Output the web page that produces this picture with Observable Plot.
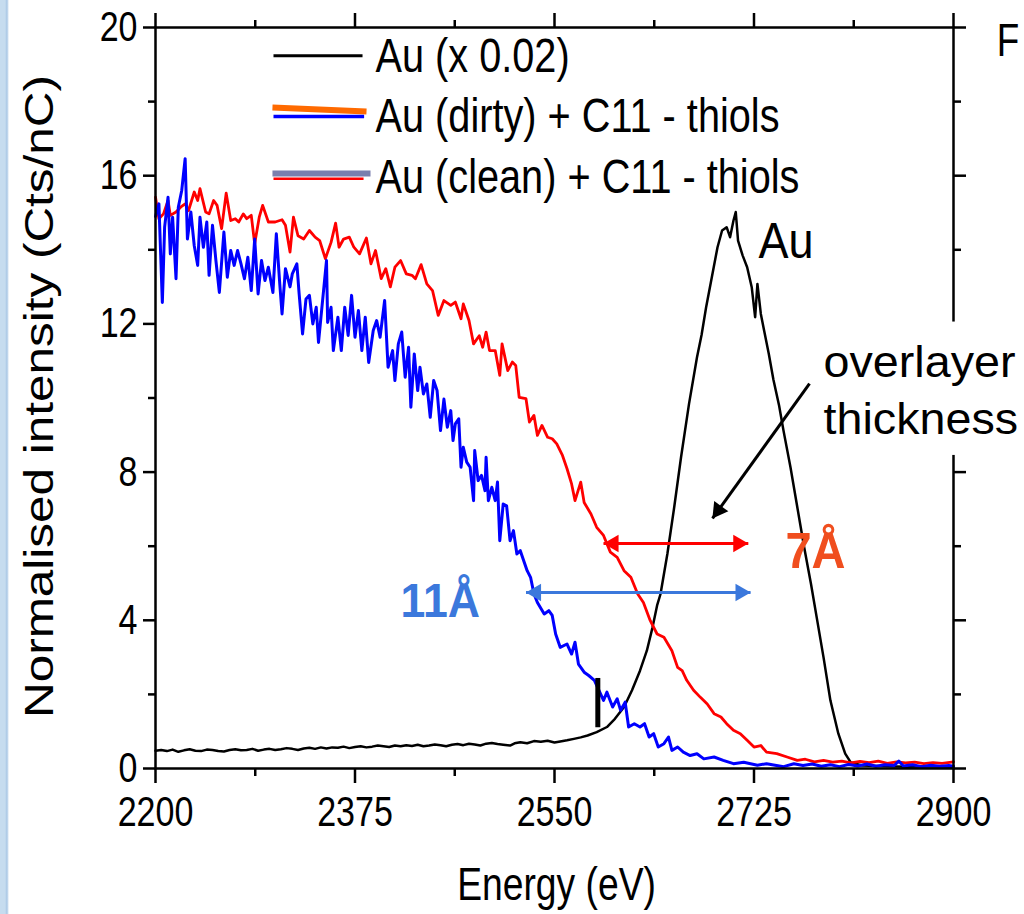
<!DOCTYPE html>
<html><head><meta charset="utf-8">
<script src="https://cdn.jsdelivr.net/npm/d3@7"></script>
<script src="https://cdn.jsdelivr.net/npm/@observablehq/plot@0.6"></script>
<style>
html,body{margin:0;padding:0;}
body{width:1024px;height:914px;overflow:hidden;background:linear-gradient(to right,#c6dcef 0,#c6dcef 5px,#a9c7e5 7px,#ffffff 9px);}
#chart svg{display:block;}
</style></head><body><div id="chart"></div>
<script>
// ---- data (energy eV, normalised intensity Cts/nC) ----
const auSpectrum = [[2200,0.48],[2205,0.5],[2210,0.47],[2215,0.51],[2220,0.45],[2225,0.49],[2230,0.52],[2235,0.48],[2240,0.47],[2245,0.51],[2250,0.5],[2255,0.47],[2260,0.46],[2265,0.5],[2270,0.52],[2275,0.49],[2280,0.5],[2285,0.53],[2290,0.48],[2295,0.51],[2300,0.53],[2305,0.5],[2310,0.52],[2315,0.55],[2320,0.53],[2325,0.5],[2330,0.54],[2335,0.56],[2340,0.53],[2345,0.57],[2350,0.54],[2355,0.57],[2360,0.56],[2365,0.59],[2370,0.55],[2375,0.58],[2380,0.6],[2385,0.57],[2390,0.59],[2395,0.62],[2400,0.6],[2405,0.58],[2410,0.62],[2415,0.6],[2420,0.63],[2425,0.61],[2430,0.64],[2435,0.6],[2440,0.62],[2445,0.65],[2450,0.63],[2455,0.6],[2460,0.64],[2465,0.66],[2470,0.63],[2475,0.67],[2480,0.65],[2485,0.62],[2490,0.67],[2495,0.69],[2500,0.66],[2505,0.64],[2511,0.62],[2515,0.68],[2520,0.71],[2526,0.68],[2532,0.74],[2538,0.72],[2544,0.75],[2550,0.7],[2555,0.73],[2561,0.76],[2567,0.8],[2573,0.84],[2579,0.89],[2587,0.98],[2596,1.12],[2603,1.34],[2611,1.66],[2618,2.11],[2625,2.64],[2631,3.18],[2636,3.81],[2640,4.4],[2643,4.71],[2649,5.79],[2655,7.05],[2661,8.4],[2668,9.84],[2675,11.1],[2679,11.7],[2683,12.45],[2688,13.26],[2693,14.07],[2697,14.52],[2701,14.61],[2704,14.34],[2707,14.79],[2709,15.02],[2711,14.25],[2715,13.85],[2719,13.53],[2723,12.99],[2726,12.18],[2728,13.08],[2731,12.27],[2734,11.8],[2738,11.19],[2742,10.5],[2747,9.8],[2751,9.1],[2757,8.13],[2763,7.05],[2769,5.97],[2775,4.98],[2780,4.08],[2786,3.0],[2792,1.84],[2799,0.94],[2805,0.4],[2810,0.16],[2820,0.08],[2840,0.06],[2860,0.05],[2880,0.06],[2900,0.05]];

const dirtySpectrum = [[2200,14.9],[2203,15.24],[2206,12.58],[2208,14.61],[2211,15.42],[2213,13.89],[2215,14.88],[2218,13.22],[2220,15.15],[2223,15.6],[2226,16.46],[2228,14.29],[2231,15.02],[2234,14.11],[2237,13.58],[2239,14.88],[2242,14.07],[2245,14.75],[2247,13.31],[2250,14.66],[2253,13.71],[2256,12.85],[2260,14.48],[2263,13.26],[2266,13.98],[2269,13.58],[2272,13.98],[2275,13.62],[2278,13.22],[2281,13.8],[2284,12.9],[2287,14.29],[2290,12.81],[2293,13.71],[2296,13.17],[2299,13.53],[2303,12.85],[2306,14.43],[2309,13.08],[2311,12.27],[2314,13.49],[2318,13.0],[2320,13.35],[2324,13.62],[2326,12.81],[2329,11.73],[2332,12.67],[2335,12.77],[2338,12.0],[2341,12.45],[2343,11.5],[2346,12.45],[2350,13.71],[2351,12.04],[2354,12.45],[2356,11.28],[2360,12.18],[2363,11.28],[2366,12.45],[2369,11.69],[2372,12.77],[2375,11.64],[2378,12.36],[2381,11.28],[2384,12.18],[2387,10.96],[2391,11.82],[2394,12.09],[2397,11.64],[2401,12.63],[2404,10.83],[2408,11.28],[2410,10.47],[2413,11.46],[2416,11.78],[2419,10.56],[2422,11.37],[2424,9.75],[2427,11.19],[2430,10.2],[2432,10.83],[2435,10.11],[2438,10.38],[2441,9.48],[2444,10.47],[2447,10.2],[2450,9.12],[2453,9.97],[2456,9.21],[2459,9.66],[2461,8.85],[2463,9.3],[2466,9.44],[2468,8.13],[2470,8.67],[2473,8.27],[2476,8.13],[2479,7.23],[2480,8.58],[2483,7.77],[2486,7.91],[2489,7.5],[2490,8.4],[2492,7.23],[2495,7.59],[2498,7.23],[2500,7.73],[2502,6.15],[2505,7.14],[2508,7.09],[2511,6.15],[2514,6.42],[2517,5.79],[2520,5.88],[2523,5.61],[2526,5.34],[2529,5.16],[2532,4.71],[2535,4.48],[2541,4.17],[2545,4.26],[2548,4.13],[2551,3.63],[2555,3.27],[2561,3.36],[2565,3.09],[2568,3.41],[2571,2.82],[2576,2.6],[2580,2.51],[2585,2.38],[2589,2.11],[2593,1.84],[2596,2.06],[2601,1.66],[2605,1.88],[2608,1.57],[2612,1.79],[2615,1.12],[2620,1.21],[2625,1.12],[2629,1.21],[2633,0.85],[2637,0.94],[2641,0.58],[2646,0.67],[2650,0.85],[2653,0.49],[2658,0.58],[2663,0.44],[2669,0.35],[2675,0.4],[2681,0.26],[2690,0.31],[2698,0.22],[2707,0.13],[2716,0.17],[2728,0.09],[2736,0.13],[2751,0.05],[2760,0.13],[2768,0.08],[2776,0.12],[2784,0.06],[2792,0.1],[2800,0.05],[2808,0.11],[2816,0.07],[2824,0.12],[2832,0.06],[2840,0.1],[2848,0.08],[2852,0.2],[2856,0.07],[2864,0.1],[2872,0.05],[2880,0.09],[2888,0.06],[2896,0.08],[2900,0.06]];

const cleanSpectrum = [[2200,15.42],[2203,14.84],[2207,14.97],[2211,15.33],[2213,14.93],[2218,15.02],[2222,15.15],[2226,15.24],[2229,15.06],[2234,15.56],[2237,15.33],[2239,15.65],[2244,15.02],[2247,14.97],[2251,15.33],[2254,15.2],[2258,14.57],[2262,15.53],[2266,14.79],[2270,14.84],[2273,14.75],[2277,14.97],[2280,14.84],[2284,14.93],[2287,14.16],[2291,14.88],[2294,15.2],[2299,14.75],[2305,14.75],[2311,14.81],[2314,14.66],[2318,13.94],[2321,14.88],[2325,14.38],[2330,14.29],[2335,14.52],[2340,14.34],[2344,14.25],[2349,13.76],[2354,14.2],[2358,14.72],[2361,14.07],[2365,14.29],[2370,14.34],[2374,14.07],[2379,13.89],[2385,14.32],[2389,13.62],[2393,13.98],[2398,13.22],[2402,13.49],[2406,13.0],[2410,13.53],[2415,13.71],[2420,13.35],[2425,13.31],[2428,13.22],[2433,13.6],[2438,13.08],[2443,12.9],[2448,12.23],[2453,12.63],[2459,12.5],[2463,12.59],[2468,12.14],[2470,12.54],[2475,12.09],[2479,11.46],[2484,11.68],[2487,11.37],[2490,11.78],[2493,11.28],[2498,11.28],[2502,10.61],[2504,11.46],[2509,10.74],[2513,10.97],[2516,10.88],[2519,10.02],[2525,9.98],[2528,9.35],[2532,9.53],[2535,8.99],[2539,9.26],[2544,8.94],[2548,8.9],[2552,8.76],[2557,8.45],[2561,8.09],[2565,7.68],[2568,7.23],[2573,7.73],[2576,7.18],[2582,6.87],[2587,6.51],[2593,6.29],[2599,5.84],[2605,5.7],[2611,5.34],[2617,5.16],[2623,4.71],[2628,4.48],[2634,3.99],[2640,3.63],[2646,3.54],[2653,3.18],[2658,2.73],[2662,2.64],[2666,2.38],[2672,2.11],[2678,1.92],[2684,1.74],[2690,1.48],[2696,1.39],[2701,1.21],[2707,1.03],[2713,0.94],[2719,0.76],[2725,0.58],[2731,0.62],[2736,0.44],[2745,0.4],[2754,0.31],[2763,0.22],[2770,0.25],[2778,0.18],[2786,0.22],[2794,0.17],[2802,0.2],[2810,0.15],[2818,0.19],[2826,0.16],[2834,0.2],[2842,0.14],[2850,0.18],[2858,0.15],[2866,0.17],[2874,0.13],[2882,0.16],[2890,0.14],[2900,0.18]];

// ticks
const xMajorTicks = [2200, 2375, 2550, 2725, 2900];
const xMinorTicks = [2287.5, 2462.5, 2637.5, 2812.5];
const yMajorTicks = [0, 4, 8, 12, 16, 20];
const yMinorTicks = [2, 6, 10, 14, 18];

// legend (anchors in data units)
const legendLabels = ["Au (x 0.02)", "Au (dirty) + C11 - thiols", "Au (clean) + C11 - thiols"];
const legendTextE = [2393, 2393, 2393];
const legendTextV = [18.79, 17.17, 15.52];
const legendAuSwatch = [{E1: 2303.5, E2: 2381.6, v1: 19.24, v2: 19.24}];
const legendOrangeSwatch = [{E1: 2302.6, E2: 2385.1, v1: 17.84, v2: 17.73}];
const legendBlueSwatch = [{E1: 2303.5, E2: 2383, v1: 17.6, v2: 17.6}];
const legendSlateSwatch = [{E1: 2302.6, E2: 2388.6, v1: 16.06, v2: 16.06}];
const legendRedSwatch = [{E1: 2303.5, E2: 2382.5, v1: 15.92, v2: 15.92}];

// annotations
const onsetMarker = [{E: 2588, lo: 1.1, hi: 2.43}];
const cleanArrow = [{E1: 2593, E2: 2720, v: 6.07}];
const dirtyArrow = [{E1: 2525, E2: 2722, v: 4.75}];
const pointerArrow = [{E1: 2773.7, v1: 10.39, E2: 2688.6, v2: 6.75}];
const labelBox = [{E1: 2779, E2: 2965, v1: 8.45, v2: 12.05}];
const auLabel = [{text: "Au", E: 2729, v: 13.77}];
const cleanLabel = [{text: "7Å", E: 2752.6, v: 5.4}];
const dirtyLabel = [{text: "11Å", E: 2415, v: 4.1}];
const overlayerLabel = [{text: "overlayer", E: 2786, v: 10.58}, {text: "thickness", E: 2786, v: 9.04}];
const cornerLabel = [{text: "F", E: 2938, v: 19.24}];
const xTitle = [{text: "Energy (eV)", E: 2551.8, v: -3.56}];
const yTitle = [{text: "Normalised intensity (Cts/nC)", E: 2110.5, v: 10.04}];

const E = d => d[0], V = d => d[1];
const FONT = "'Liberation Sans', Arial, Helvetica, sans-serif";

const chart = Plot.plot({
  width: 1024, height: 914,
  marginLeft: 155, marginRight: 71, marginTop: 27, marginBottom: 146,
  x: {domain: [2200, 2900]},
  y: {domain: [0, 20]},
  style: {fontFamily: FONT, background: "transparent", color: "black", overflow: "visible"},
  marks: [
    Plot.line(auSpectrum, {x: E, y: V, stroke: "black", strokeWidth: 2.5, strokeLinejoin: "round"}),
    Plot.line(cleanSpectrum, {x: E, y: V, stroke: "#ff0000", strokeWidth: 2.8, strokeLinejoin: "round"}),
    Plot.line(dirtySpectrum, {x: E, y: V, stroke: "#0000ff", strokeWidth: 3, strokeLinejoin: "round"}),
    Plot.ruleX(onsetMarker, {x: "E", y1: "lo", y2: "hi", stroke: "black", strokeWidth: 5}),
    Plot.frame({stroke: "black", strokeWidth: 2.5}),
    Plot.axisY(yMajorTicks, {anchor: "left", tickSize: 12, tickPadding: 6, fontSize: 42, strokeWidth: 2.5, tickFormat: d => String(d), label: null}),
    Plot.axisY(yMinorTicks, {anchor: "left", tickSize: 7, strokeWidth: 2.5, fill: "none", label: null}),
    Plot.axisY(yMajorTicks, {anchor: "right", tickSize: 12, strokeWidth: 2.5, fill: "none", label: null}),
    Plot.axisY(yMinorTicks, {anchor: "right", tickSize: 7, strokeWidth: 2.5, fill: "none", label: null}),
    Plot.axisX(xMajorTicks, {anchor: "bottom", tickSize: 15, tickPadding: 13, fontSize: 42, strokeWidth: 2.5, tickFormat: d => String(d), label: null}),
    Plot.axisX(xMinorTicks, {anchor: "bottom", tickSize: 8, strokeWidth: 2.5, fill: "none", label: null}),
    Plot.axisX(xMajorTicks, {anchor: "top", tickSize: 15, strokeWidth: 2.5, fill: "none", label: null}),
    Plot.axisX(xMinorTicks, {anchor: "top", tickSize: 8, strokeWidth: 2.5, fill: "none", label: null}),
    Plot.rect(labelBox, {x1: "E1", x2: "E2", y1: "v1", y2: "v2", fill: "white"}),
    // legend swatches
    Plot.link(legendAuSwatch, {x1: "E1", x2: "E2", y1: "v1", y2: "v2", stroke: "black", strokeWidth: 3}),
    Plot.link(legendOrangeSwatch, {x1: "E1", x2: "E2", y1: "v1", y2: "v2", stroke: "#ff6a00", strokeWidth: 6}),
    Plot.link(legendBlueSwatch, {x1: "E1", x2: "E2", y1: "v1", y2: "v2", stroke: "#0000ff", strokeWidth: 3.5}),
    Plot.link(legendSlateSwatch, {x1: "E1", x2: "E2", y1: "v1", y2: "v2", stroke: "#7a7fae", strokeWidth: 6}),
    Plot.link(legendRedSwatch, {x1: "E1", x2: "E2", y1: "v1", y2: "v2", stroke: "#ff0000", strokeWidth: 2.5}),
    Plot.text(legendLabels, {x: (d, i) => legendTextE[i], y: (d, i) => legendTextV[i], text: d => d, textAnchor: "start", lineAnchor: "bottom", fontSize: 49, fill: "black"}),
    // thickness arrows
    Plot.link(cleanArrow, {x1: "E1", x2: "E2", y1: "v", y2: "v", stroke: "#ff0000", strokeWidth: 3}),
    Plot.dot(cleanArrow, {x: "E1", y: "v", symbol: "triangle", r: 6.5, rotate: -90, dx: 10, fill: "#ff0000", stroke: "none"}),
    Plot.dot(cleanArrow, {x: "E2", y: "v", symbol: "triangle", r: 6.5, rotate: 90, dx: -10, fill: "#ff0000", stroke: "none"}),
    Plot.link(dirtyArrow, {x1: "E1", x2: "E2", y1: "v", y2: "v", stroke: "#3b78dc", strokeWidth: 3}),
    Plot.dot(dirtyArrow, {x: "E1", y: "v", symbol: "triangle", r: 6.5, rotate: -90, dx: 10, fill: "#3b78dc", stroke: "none"}),
    Plot.dot(dirtyArrow, {x: "E2", y: "v", symbol: "triangle", r: 6.5, rotate: 90, dx: -10, fill: "#3b78dc", stroke: "none"}),
    // pointer arrow
    Plot.link(pointerArrow, {x1: "E1", y1: "v1", x2: "E2", y2: "v2", stroke: "black", strokeWidth: 3}),
    Plot.dot(pointerArrow, {x: "E2", y: "v2", symbol: "triangle", r: 6.5, rotate: -144, dx: 5.8, dy: -8.1, fill: "black", stroke: "none"}),
    // labels
    Plot.text(auLabel, {x: "E", y: "v", text: "text", textAnchor: "start", lineAnchor: "bottom", fontSize: 50, fill: "black"}),
    Plot.text(cleanLabel, {x: "E", y: "v", text: "text", textAnchor: "start", lineAnchor: "bottom", fontSize: 50, fontWeight: "bold", fill: "#f04e1e"}),
    Plot.text(dirtyLabel, {x: "E", y: "v", text: "text", textAnchor: "start", lineAnchor: "bottom", fontSize: 48, fontWeight: "bold", fill: "#3b78dc"}),
    Plot.text(overlayerLabel, {x: "E", y: "v", text: "text", textAnchor: "start", lineAnchor: "bottom", fontSize: 44, fill: "black"}),
    Plot.text(cornerLabel, {x: "E", y: "v", text: "text", textAnchor: "start", lineAnchor: "bottom", fontSize: 46, fill: "black"}),
    Plot.text(xTitle, {x: "E", y: "v", text: "text", textAnchor: "middle", lineAnchor: "bottom", fontSize: 46, fill: "black"}),
    Plot.text(yTitle, {x: "E", y: "v", text: "text", textAnchor: "middle", lineAnchor: "bottom", rotate: -90, fontSize: 40, fill: "black"})
  ]
});

document.getElementById("chart").append(chart);

// condensed look of the original lettering
const fixedLength = new Map([["Normalised intensity (Cts/nC)", 643], ["overlayer", 192]]);
const factors = new Map([["7Å", 0.94], ["11Å", 0.93], ["Au", 0.9], ["F", 0.8]]);
let overlayerFactor = 1;
const texts = Array.from(chart.querySelectorAll("text"));
texts.forEach(t => {
  const s = t.textContent;
  const L = t.getComputedTextLength();
  if (!L) return;
  let target;
  if (fixedLength.has(s)) { target = fixedLength.get(s); if (s === "overlayer") overlayerFactor = target / L; }
  else if (s === "thickness") return;
  else target = L * (factors.has(s) ? factors.get(s) : 0.81);
  t.setAttribute("textLength", target.toFixed(1));
  t.setAttribute("lengthAdjust", "spacingAndGlyphs");
});
texts.forEach(t => {
  if (t.textContent === "thickness") {
    const L = t.getComputedTextLength();
    t.setAttribute("textLength", (L * overlayerFactor).toFixed(1));
    t.setAttribute("lengthAdjust", "spacingAndGlyphs");
  }
});
</script></body></html>
